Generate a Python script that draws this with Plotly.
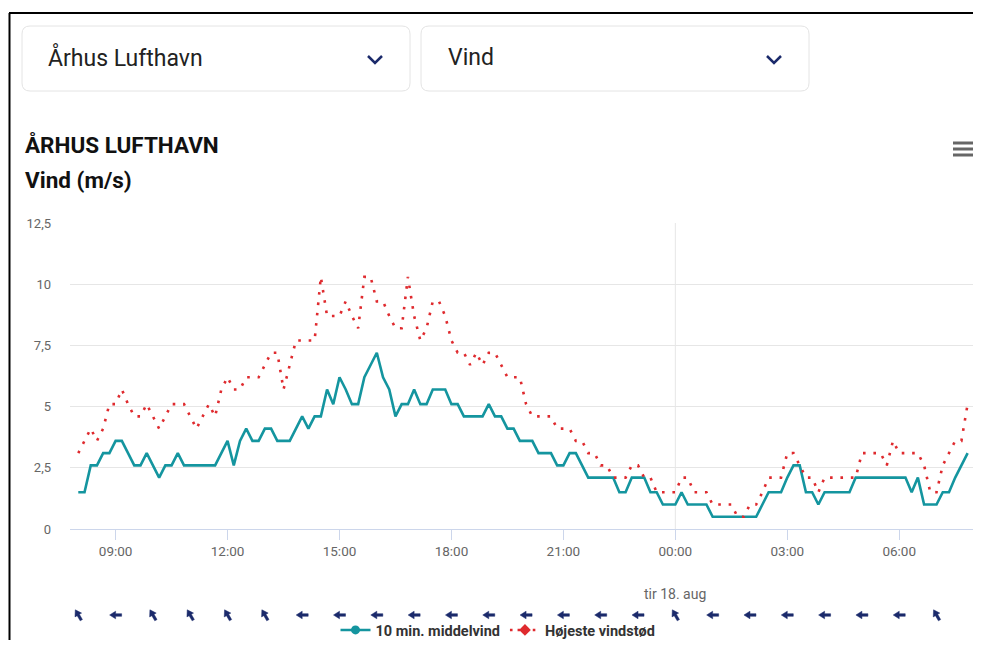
import math
import pandas as pd
import plotly.graph_objects as go

# 10-minute observations, Århus Lufthavn, 17-18 aug 2020 (m/s)
start_time = "2020-08-17 08:00"
step = "10min"

mean_wind = [
    1.5, 1.5, 2.6, 2.6, 3.1, 3.1, 3.6, 3.6, 3.1, 2.6, 2.6, 3.1,
    2.6, 2.1, 2.6, 2.6, 3.1, 2.6, 2.6, 2.6, 2.6, 2.6, 2.6, 3.1,
    3.6, 2.6, 3.6, 4.1, 3.6, 3.6, 4.1, 4.1, 3.6, 3.6, 3.6, 4.1,
    4.6, 4.1, 4.6, 4.6, 5.7, 5.1, 6.2, 5.7, 5.1, 5.1, 6.2, 6.7,
    7.2, 6.2, 5.7, 4.6, 5.1, 5.1, 5.7, 5.1, 5.1, 5.7, 5.7, 5.7,
    5.1, 5.1, 4.6, 4.6, 4.6, 4.6, 5.1, 4.6, 4.6, 4.1, 4.1, 3.6,
    3.6, 3.6, 3.1, 3.1, 3.1, 2.6, 2.6, 3.1, 3.1, 2.6, 2.1, 2.1,
    2.1, 2.1, 2.1, 1.5, 1.5, 2.1, 2.1, 2.1, 1.5, 1.5, 1.0, 1.0,
    1.0, 1.5, 1.0, 1.0, 1.0, 1.0, 0.5, 0.5, 0.5, 0.5, 0.5, 0.5,
    0.5, 0.5, 1.0, 1.5, 1.5, 1.5, 2.1, 2.6, 2.6, 1.5, 1.5, 1.0,
    1.5, 1.5, 1.5, 1.5, 1.5, 2.1, 2.1, 2.1, 2.1, 2.1, 2.1, 2.1,
    2.1, 2.1, 1.5, 2.1, 1.0, 1.0, 1.0, 1.5, 1.5, 2.1, 2.6, 3.1,
]

max_gust = [
    3.1, 3.6, 4.1, 3.6, 4.1, 5.1, 5.1, 5.7, 5.1, 4.6, 4.6, 5.1,
    4.6, 4.1, 4.6, 5.1, 5.1, 5.1, 4.6, 4.1, 4.6, 5.1, 4.6, 5.7,
    6.2, 5.7, 5.7, 6.2, 6.2, 6.2, 6.7, 7.2, 7.2, 5.7, 6.7, 7.7,
    7.7, 7.7, 7.7, 10.3, 8.7, 8.7, 8.7, 9.3, 8.7, 8.2, 10.3, 10.3,
    9.3, 9.3, 8.7, 8.2, 8.2, 10.3, 8.7, 7.7, 8.2, 9.3, 9.3, 8.7,
    7.7, 7.2, 7.2, 6.7, 7.2, 6.7, 7.2, 7.2, 6.7, 6.2, 6.2, 6.2,
    5.1, 4.6, 4.6, 4.6, 4.6, 4.1, 4.1, 4.1, 3.6, 3.6, 3.1, 3.1,
    2.6, 2.6, 2.1, 2.1, 2.1, 2.6, 2.6, 2.1, 2.1, 1.5, 1.5, 1.5,
    1.5, 2.1, 2.1, 1.5, 1.5, 1.5, 1.0, 1.0, 1.0, 1.0, 0.5, 0.5,
    1.0, 1.0, 1.5, 2.1, 2.1, 2.1, 3.1, 3.1, 2.6, 2.1, 2.1, 1.5,
    2.1, 2.1, 2.1, 2.1, 2.1, 2.1, 3.1, 3.1, 3.1, 3.1, 2.6, 3.6,
    3.1, 3.1, 3.1, 3.1, 2.6, 1.5, 1.5, 2.6, 3.1, 3.6, 3.6, 5.1,
]

# hourly wind direction (degrees, where the wind comes from)
wind_dir = [150, 90, 150, 150, 150, 150, 90, 90, 90, 90, 90, 90,
            90, 90, 90, 90, 150, 90, 90, 90, 90, 90, 90, 150]

y_ticks = [0, 2.5, 5, 7.5, 10, 12.5]

TEAL = "#14959f"
RED = "#df2a2e"
NAVY = "#1b2a6b"
GREY_TXT = "#666666"

times = pd.date_range(start_time, periods=len(mean_wind), freq=step)
arrow_times = pd.date_range(start_time, periods=len(wind_dir), freq="h")

# page pixels (the html body adds an 8px margin round the figure)
OFF = 8
W, H = 973, 632
L, R, T, B = 70, 978, 223, 529   # plot area on the page


def px(x):
    return (x - L) / (R - L)


def py(y):
    return (B - y) / (B - T)


def rounded_box(x0, y0, x1, y1, r=8):
    pts = [
        f"M {px(x0 + r)} {py(y0)}",
        f"L {px(x1 - r)} {py(y0)}",
        f"Q {px(x1)} {py(y0)} {px(x1)} {py(y0 + r)}",
        f"L {px(x1)} {py(y1 - r)}",
        f"Q {px(x1)} {py(y1)} {px(x1 - r)} {py(y1)}",
        f"L {px(x0 + r)} {py(y1)}",
        f"Q {px(x0)} {py(y1)} {px(x0)} {py(y1 - r)}",
        f"L {px(x0)} {py(y0 + r)}",
        f"Q {px(x0)} {py(y0)} {px(x0 + r)} {py(y0)}",
        "Z",
    ]
    return " ".join(pts)


def arrow_path(deg, length=12, head=6, head_w=3.8, shaft_w=1.3):
    # arrow in pixels (y up), pointing where the wind blows to
    to = math.radians(deg + 180)
    ux, uy = math.sin(to), math.cos(to)
    nx, ny = -uy, ux
    h = length / 2
    local = [(-h, -shaft_w), (h - head, -shaft_w), (h - head, -head_w), (h, 0),
             (h - head, head_w), (h - head, shaft_w), (-h, shaft_w)]
    pts = [(a * ux + b * nx, a * uy + b * ny) for a, b in local]
    return "M " + " L ".join(f"{x:.2f} {y:.2f}" for x, y in pts) + " Z"


fig = go.Figure()

fig.add_trace(go.Scatter(
    x=times, y=mean_wind, mode="lines", name="10 min. middelvind",
    line=dict(color=TEAL, width=2.6), showlegend=False,
))
fig.add_trace(go.Scatter(
    x=times, y=max_gust, mode="lines", name="Højeste vindstød",
    line=dict(color=RED, width=2.6, dash="2.6px,7.8px"), showlegend=False,
))

# legend entries (markers only in legend, like the original)
fig.add_trace(go.Scatter(
    x=[None], y=[None], mode="lines+markers", name="10 min. middelvind",
    line=dict(color=TEAL, width=2.6), marker=dict(symbol="circle", size=9, color=TEAL),
))
fig.add_trace(go.Scatter(
    x=[None], y=[None], mode="lines+markers", name="Højeste vindstød",
    line=dict(color=RED, width=2.6, dash="2.6px,5px"),
    marker=dict(symbol="diamond", size=9, color=RED),
))

shapes = []
# page frame
shapes.append(dict(type="line", xref="paper", yref="paper", x0=px(9), x1=px(981),
                   y0=py(13), y1=py(13), line=dict(color="#000000", width=2)))
shapes.append(dict(type="line", xref="paper", yref="paper", x0=px(9.5), x1=px(9.5),
                   y0=py(13), y1=py(648), line=dict(color="#000000", width=2)))
# dropdowns
for x0, x1 in [(22, 410), (421, 809)]:
    shapes.append(dict(type="path", xref="paper", yref="paper",
                       path=rounded_box(x0, 26, x1, 91),
                       line=dict(color="#e4e4e4", width=1), fillcolor="white"))
    cx = x1 - 35
    shapes.append(dict(type="path", xref="paper", yref="paper",
                       path=f"M {px(cx - 7)} {py(56)} L {px(cx)} {py(63)} L {px(cx + 7)} {py(56)}",
                       line=dict(color=NAVY, width=2.5)))
# menu icon
for yy in [143, 149, 155]:
    shapes.append(dict(type="line", xref="paper", yref="paper", x0=px(953), x1=px(973),
                       y0=py(yy), y1=py(yy), line=dict(color=GREY_TXT, width=3)))
# midnight line
shapes.append(dict(type="line", xref="x", yref="paper", x0="2020-08-18 00:00",
                   x1="2020-08-18 00:00", y0=0, y1=1, layer="below",
                   line=dict(color="#e6e6e6", width=1)))
# wind direction arrows
for t, d in zip(arrow_times, wind_dir):
    shapes.append(dict(type="path", xref="x", yref="paper",
                       xsizemode="pixel", ysizemode="pixel",
                       xanchor=t, yanchor=py(615),
                       path=arrow_path(d), fillcolor=NAVY,
                       line=dict(color=NAVY, width=0.5)))

annotations = [
    dict(text="Århus Lufthavn", x=px(46), y=py(58), xref="paper", yref="paper",
         xanchor="left", yanchor="middle", showarrow=False,
         font=dict(size=23, color="#222222")),
    dict(text="Vind", x=px(446), y=py(58), xref="paper", yref="paper",
         xanchor="left", yanchor="middle", showarrow=False,
         font=dict(size=23, color="#222222")),
    dict(text="<b>ÅRHUS LUFTHAVN</b>", x=px(23), y=py(145), xref="paper", yref="paper",
         xanchor="left", yanchor="middle", showarrow=False,
         font=dict(size=22.5, color="#111111")),
    dict(text="<b>Vind (m/s)</b>", x=px(23), y=py(180), xref="paper", yref="paper",
         xanchor="left", yanchor="middle", showarrow=False,
         font=dict(size=22.5, color="#111111")),
    dict(text="tir 18. aug", x="2020-08-18 00:00", y=py(594), xref="x", yref="paper",
         xanchor="center", yanchor="middle", showarrow=False,
         font=dict(size=14, color=GREY_TXT)),
]

fig.update_layout(
    width=W, height=H,
    margin=dict(l=L - OFF, r=W - (R - OFF), t=T - OFF, b=H - (B - OFF), pad=0,
                autoexpand=False),
    paper_bgcolor="white", plot_bgcolor="white",
    font=dict(family="Roboto, Arial, sans-serif", color=GREY_TXT),
    separators=", ",
    showlegend=True,
    legend=dict(orientation="h", x=px(498), xanchor="center", y=py(630), yanchor="middle",
                font=dict(size=14.5, color="#333333", weight="bold"),
                bgcolor="rgba(0,0,0,0)", borderwidth=0, tracegroupgap=0),
    shapes=shapes,
    annotations=annotations,
)

fig.update_xaxes(
    type="date",
    range=["2020-08-17 07:46:40", "2020-08-18 08:06:40"],
    tick0="2020-08-17 00:00", dtick=3 * 3600 * 1000, tickformat="%H:%M",
    showgrid=False, zeroline=False,
    showline=True, linecolor="#ccd6eb", linewidth=1,
    ticks="outside", ticklen=10, tickcolor="#ccd6eb",
    tickfont=dict(size=13.5, color=GREY_TXT),
)
fig.update_yaxes(
    range=[0, 12.5], tickvals=y_ticks,
    showgrid=True, gridcolor="#e6e6e6", gridwidth=1,
    zeroline=False, showline=False,
    ticklabelstandoff=18,
    tickfont=dict(size=13, color=GREY_TXT),
)

fig.write_html("out.html")
